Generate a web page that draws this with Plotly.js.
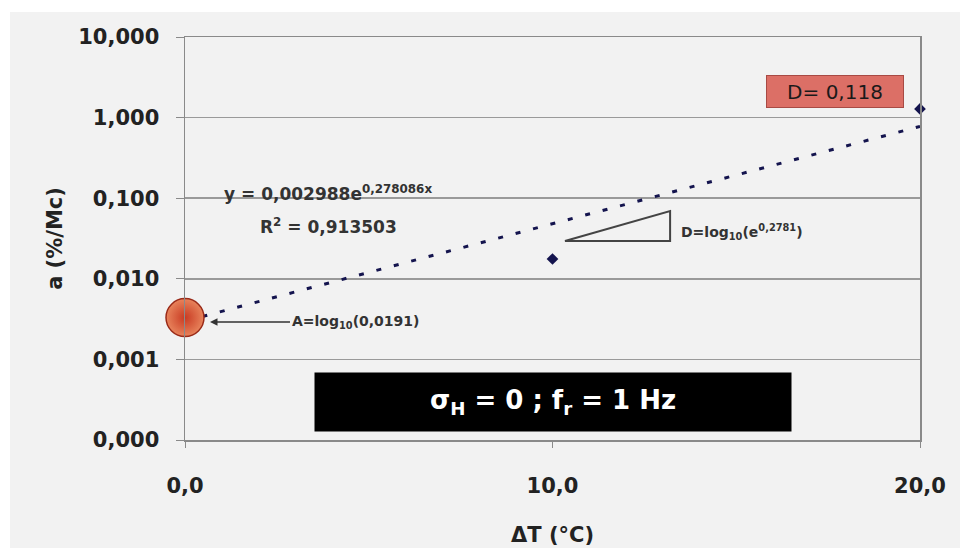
<!DOCTYPE html>
<html>
<head>
<meta charset="utf-8">
<script src="https://cdn.plot.ly/plotly-3.0.1.min.js"></script>
<style>html,body{margin:0;padding:0;background:#fff;}#chart{width:960px;height:548px;}</style>
</head>
<body>
<div id="chart"></div>
<script>
// Measured points (ΔT in °C, a in %/Mc)
const deltaT = [0, 10, 20];
const rate = [0.0049, 0.0176, 1.28];
// Exponential trend line end values (straight on log axis)
const trendX = [0, 20];
const trendY = [0.002988, 0.778];
// Highlighted point (A)
const highlightX = [0];
const highlightY = [0.0033];
// Axis ticks
const xTickVals = [0, 10, 20];
const xTickText = ['0,0', '10,0', '20,0'];
const yTickVals = [0.0001, 0.001, 0.01, 0.1, 1, 10];
const yTickText = ['0,000', '0,001', '0,010', '0,100', '1,000', '10,000'];

const FONT = 'DejaVu Sans, Arial, sans-serif';
const navy = '#14144e';

const traces = [
  {
    x: trendX, y: trendY, type: 'scatter', mode: 'lines',
    line: {color: navy, width: 3, dash: '5px,13px'},
    hoverinfo: 'skip', showlegend: false
  },
  {
    x: deltaT, y: rate, type: 'scatter', mode: 'markers',
    marker: {symbol: 'diamond', size: 9, color: navy},
    cliponaxis: false, showlegend: false
  },
  {
    x: highlightX, y: highlightY, type: 'scatter', mode: 'markers',
    marker: {symbol: 'circle', size: 38, color: '#e8845c',
             gradient: {type: 'radial', color: '#c83a22'},
             line: {color: '#9a2a18', width: 1.5}},
    cliponaxis: false, showlegend: false, hoverinfo: 'skip'
  }
];

const layout = {
  width: 960, height: 548,
  margin: {l: 185, r: 40, t: 37, b: 108},
  paper_bgcolor: '#ffffff',
  plot_bgcolor: 'rgba(0,0,0,0)',
  showlegend: false,
  font: {family: FONT, color: '#222'},
  xaxis: {
    range: [0, 20], tickvals: xTickVals, ticktext: xTickText,
    showgrid: false, zeroline: false,
    showline: true, mirror: true, linecolor: '#8a8a8a', linewidth: 1.5,
    ticks: 'outside', ticklen: 6, tickcolor: '#8a8a8a',
    ticklabelstandoff: 20,
    tickfont: {family: FONT, size: 21, weight: 'bold', color: '#222'},
    title: {text: 'ΔT (°C)', font: {family: FONT, size: 21, weight: 'bold', color: '#222'}, standoff: 30}
  },
  yaxis: {
    type: 'log', range: [-4, 1], tickvals: yTickVals, ticktext: yTickText,
    showgrid: true, gridcolor: '#9a9a9a', gridwidth: 1.5,
    zeroline: false,
    showline: true, mirror: true, linecolor: '#8a8a8a', linewidth: 1.5,
    ticks: 'outside', ticklen: 8, tickcolor: '#8a8a8a',
    ticklabelstandoff: 12,
    tickfont: {family: FONT, size: 21, weight: 'bold', color: '#222'},
    title: {text: 'a (%/Mc)', font: {family: FONT, size: 21, weight: 'bold', color: '#222'}, standoff: 10}
  },
  shapes: [
    {type: 'rect', xref: 'paper', yref: 'paper', x0: -0.238, x1: 1.06, y0: -0.27, y1: 1.062,
     fillcolor: '#f2f2f2', line: {width: 0}, layer: 'below'},
    {type: 'path', xref: 'paper', yref: 'paper',
     path: 'M 0.517 0.494 L 0.660 0.568 L 0.660 0.494 Z',
     line: {color: '#444', width: 2}, fillcolor: 'rgba(0,0,0,0)'}
  ],
  annotations: [
    {xref: 'paper', yref: 'paper', x: 0.0503, y: 0.612, xanchor: 'left', yanchor: 'middle',
     text: 'y = 0,002988e<sup>0,278086x</sup>', showarrow: false,
     font: {family: FONT, size: 17, weight: 'bold', color: '#333'}},
    {xref: 'paper', yref: 'paper', x: 0.0993, y: 0.531, xanchor: 'left', yanchor: 'middle',
     text: 'R<sup>2</sup> = 0,913503', showarrow: false,
     font: {family: FONT, size: 17, weight: 'bold', color: '#333'}},
    {xref: 'paper', yref: 'paper', x: 0.672, y: 0.516, xanchor: 'left', yanchor: 'middle',
     text: 'D=log<sub>10</sub>(e<sup>0,2781</sup>)', showarrow: false,
     font: {family: FONT, size: 14, weight: 'bold', color: '#333'}},
    {xref: 'paper', yref: 'paper', x: 0.034, y: 0.293, xanchor: 'left', yanchor: 'middle',
     ax: 80, ay: 0, axref: 'pixel', ayref: 'pixel',
     text: 'A=log<sub>10</sub>(0,0191)', showarrow: true,
     arrowhead: 2, arrowsize: 1, arrowwidth: 1.5, arrowcolor: '#333',
     font: {family: FONT, size: 14, weight: 'bold', color: '#333'}},
    {xref: 'paper', yref: 'paper', x: 0.5007, y: 0.094, xanchor: 'center', yanchor: 'middle',
     width: 474, height: 56, bgcolor: '#000000', borderpad: 1,
     text: 'σ<sub>H</sub> = 0 ; f<sub>r</sub> = 1 Hz', showarrow: false,
     font: {family: FONT, size: 26, weight: 'bold', color: '#ffffff'}},
    {xref: 'paper', yref: 'paper', x: 0.885, y: 0.865, xanchor: 'center', yanchor: 'middle',
     width: 136, height: 31, bgcolor: '#dc6f66', bordercolor: '#a84a44', borderwidth: 1, borderpad: 0,
     text: 'D= 0,118', showarrow: false,
     font: {family: FONT, size: 20, color: '#1a1a1a'}}
  ]
};

Plotly.newPlot('chart', traces, layout, {displayModeBar: false, staticPlot: true});
</script>
</body>
</html>
